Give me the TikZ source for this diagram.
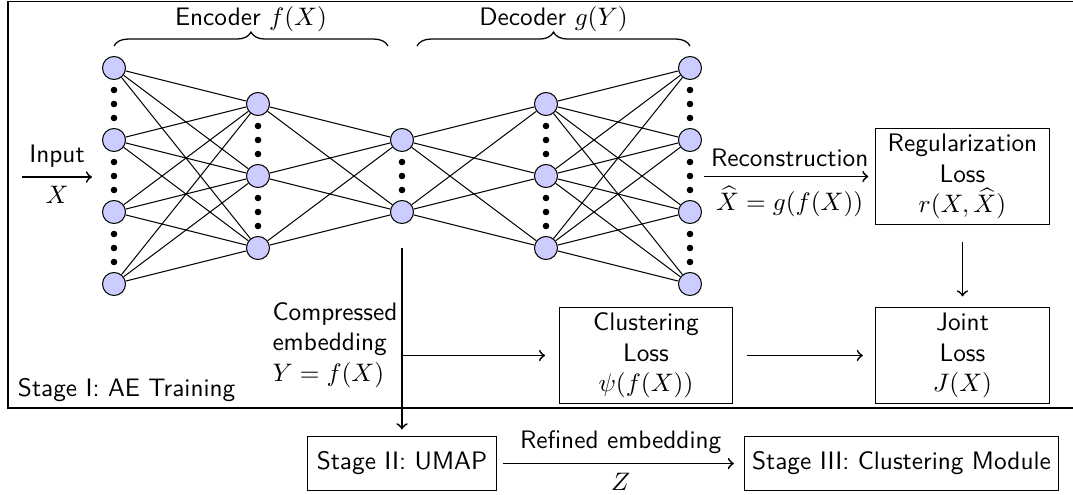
\documentclass[tikz,border=0pt]{standalone}
\usetikzlibrary{decorations.pathreplacing}
\begin{document}
\begin{tikzpicture}[x=0.3953pt,y=-0.3953pt,font=\sffamily,
 neuron/.style={circle,draw=black,fill=blue!20,minimum size=9.1pt,inner sep=0pt,line width=0.4pt},
 dotnode/.style={circle,fill=black,inner sep=0pt,minimum size=2.6pt},
 conn/.style={line width=0.4pt},
 arr/.style={->,line width=0.7pt},
 lossbox/.style={draw,line width=0.4pt,minimum width=68.4pt,minimum height=38.3pt,align=center,inner sep=1pt},
 stagebox/.style={draw,line width=0.4pt,minimum height=21pt,inner xsep=3pt}]
\useasboundingbox (0,0) rectangle (1073,494);
% outer frame
\draw[line width=0.5pt] (1080,1.5) -- (8,1.5) -- (8,408) -- (1080,408);
% neurons
\foreach \i/\y in {1/68,2/140,3/212,4/284} {
  \node[neuron] (a\i) at (114,\y) {};
  \node[neuron] (e\i) at (690,\y) {};
}
\foreach \i/\y in {1/104,2/176,3/248} {
  \node[neuron] (b\i) at (258,\y) {};
  \node[neuron] (d\i) at (546,\y) {};
}
\foreach \i/\y in {1/140,2/212} \node[neuron] (c\i) at (402,\y) {};
% vertical dots
\foreach \m [count=\k] in {104,176,248} {
  \foreach \o [count=\j] in {-14,0,14} {
    \node[dotnode] (da\k\j) at (114,{\m+\o}) {};
    \node[dotnode] (de\k\j) at (690,{\m+\o}) {};
  }
}
\foreach \m [count=\k] in {140,212} {
  \foreach \o [count=\j] in {-14,0,14} {
    \node[dotnode] (db\k\j) at (258,{\m+\o}) {};
    \node[dotnode] (dd\k\j) at (546,{\m+\o}) {};
  }
}
\foreach \o [count=\j] in {-14,0,14} \node[dotnode] (dc\j) at (402,{176+\o}) {};
% connections
\foreach \i in {1,...,4} {
  \foreach \j in {1,...,3} {
    \draw[conn] (a\i) -- (b\j);
    \draw[conn] (d\j) -- (e\i);
  }
}
\foreach \i in {1,2,3} {
  \foreach \j in {1,2} {
    \draw[conn] (b\i) -- (c\j);
    \draw[conn] (c\j) -- (d\i);
  }
}
% braces
\draw[decorate,decoration={brace,amplitude=5.5pt},line width=0.5pt] (114,46) -- (388,46);
\node (enc) at (251,19) {Encoder $f(X)$};
\draw[decorate,decoration={brace,amplitude=5.5pt},line width=0.5pt] (417,46) -- (690,46);
\node (dec) at (553.5,19) {Decoder $g(Y)$};
% boxes
\node[lossbox] (reg) at (962.5,176.5) {Regularization\\Loss\\$r(X,\widehat{X})$};
\node[lossbox] (joint) at (962.5,355.5) {Joint\\Loss\\$J(X)$};
\node[lossbox] (clus) at (646,355.5) {Clustering\\Loss\\$\psi(f(X))$};
\node[stagebox,minimum width=75pt] (umap) at (402,463.5) {Stage II: UMAP};
\node[stagebox] (s3) at (901.5,463.5) {Stage III: Clustering Module};
% texts
\node[align=left,anchor=north west,inner sep=0pt] (cemb) at (272,302) {Compressed\\embedding\\$Y=f(X)$};
\node[anchor=west] (s1) at (9,390) {Stage I: AE Training};
% arrows
\coordinate (inA) at (22,177);
\coordinate (inB) at (92,177);
\draw[arr] (inA) -- (inB) node[midway,above] (inlab) {Input} node[midway,below] (xlab) {$X$};
\coordinate (rA) at (704,176.5);
\draw[arr,shorten >=2.8pt] (rA) -- (reg.west) node[midway,above] (reclab) {Reconstruction} node[midway,below] (xhat) {$\widehat{X}=g(f(X))$};
\coordinate (emb) at (402,248);
\coordinate (br) at (402,355.5);
\draw[arr,shorten >=2.8pt] (emb) -- (umap);
\draw[arr,shorten >=5.5pt] (br) -- (clus);
\draw[arr,shorten <=5.5pt,shorten >=5pt] (clus) -- (joint);
\draw[arr,shorten <=6.7pt,shorten >=4pt] (reg) -- (joint);
\draw[arr,shorten <=2.4pt,shorten >=4pt] (umap) -- (s3) node[midway,above] (reflab) {Refined embedding} node[midway,below] (zlab) {$Z$};
\end{tikzpicture}
\end{document}
